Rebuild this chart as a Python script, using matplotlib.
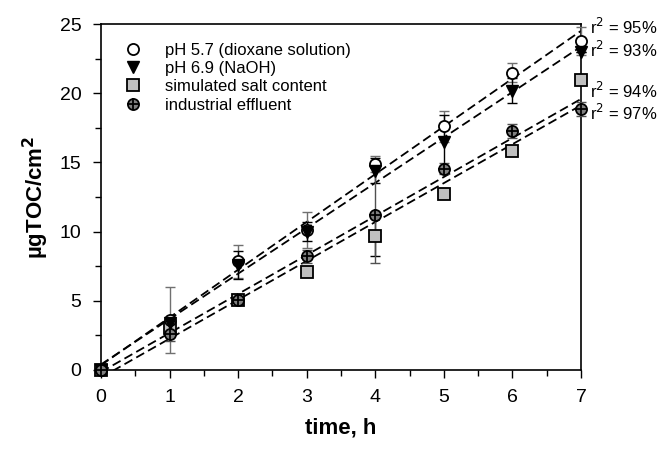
import numpy as np
import matplotlib
matplotlib.use('Agg')
import matplotlib.pyplot as plt
from matplotlib.ticker import MultipleLocator
from matplotlib.legend_handler import HandlerTuple

plt.rcParams['font.family'] = ['Liberation Sans', 'DejaVu Sans']

# data
time_h = [0, 1, 2, 3, 4, 5, 6, 7]
ph57 = [0, 3.6, 7.85, 10.15, 14.9, 17.6, 21.5, 23.8]
ph57_err = [0, 2.4, 1.2, 1.3, 0.6, 1.1, 0.7, 1.0]
ph69 = [0, 3.4, 7.6, 10.0, 14.4, 16.5, 20.2, 22.95]
ph69_err = [0, 0, 1.0, 0.7, 0.9, 1.9, 0.9, 0]
salt = [0, 3.0, 5.05, 7.1, 9.7, 12.7, 15.8, 20.95]
salt_err = [0, 0, 0, 0, 1.5, 0, 0, 0]
effluent = [0, 2.6, 5.05, 8.2, 11.2, 14.55, 17.3, 18.84]
effluent_err = [0, 0.5, 0, 0.5, 3.5, 0.4, 0.5, 0.5]

labels = ['pH 5.7 (dioxane solution)', 'pH 6.9 (NaOH)',
          'simulated salt content', 'industrial effluent']
r2_labels = ['95%', '93%', '94%', '97%']
r2_ypos = [24.8, 23.1, 20.2, 18.6]

fig = plt.figure(figsize=(6.64, 4.55), dpi=100)
ax = fig.add_axes([0.152, 0.187, 0.723, 0.760])

t = np.array(time_h)
series = [ph57, ph69, salt, effluent]
errs = [ph57_err, ph69_err, salt_err, effluent_err]

# regression lines
for y in series:
    k, b = np.polyfit(t, y, 1)
    ax.plot([t[0], t[-1]], [k * t[0] + b, k * t[-1] + b], color='black',
            lw=1.3, dashes=(5, 2.5), zorder=2)

ms = 8
ecols = ['#707070', 'black', 'black', '#505050']
for y, e, c in zip(series, errs, ecols):
    ax.errorbar(t, y, yerr=e, fmt='none', ecolor=c, elinewidth=1.0,
                capsize=3.5, capthick=1.0, zorder=3, clip_on=False)

h1, = ax.plot(t, ph57, 'o', ms=ms, mfc='white', mec='black', mew=1.3, zorder=5, clip_on=False)
h2, = ax.plot(t, ph69, 'v', ms=ms + 1, mfc='black', mec='black', zorder=5, clip_on=False)
h3, = ax.plot(t, salt, 's', ms=ms, mfc='#c0c0c0', mec='black', mew=1.3, zorder=4, clip_on=False)
h4a, = ax.plot(t, effluent, 'o', ms=ms, mfc='#808080', mec='black', mew=1.3, zorder=6, clip_on=False)
h4b, = ax.plot(t, effluent, '+', ms=ms, mec='black', mew=1.3, zorder=7, clip_on=False)

# r^2 labels at right edge
for lab, yy in zip(r2_labels, r2_ypos):
    ax.text(7.13, yy, 'r$^2$ = ' + lab, fontsize=12, ha='left', va='center',
            clip_on=False)

ax.set_xlim(0, 7)
ax.set_ylim(0, 25)
ax.xaxis.set_major_locator(MultipleLocator(1))
ax.xaxis.set_minor_locator(MultipleLocator(0.5))
ax.yaxis.set_major_locator(MultipleLocator(5))
ax.yaxis.set_minor_locator(MultipleLocator(2.5))
ax.tick_params(which='both', direction='out', top=False, right=False,
               labelsize=14, width=1)
ax.tick_params(which='major', length=6, pad=8)
ax.tick_params(which='minor', length=4)
for s in ax.spines.values():
    s.set_linewidth(1.2)

ax.set_xlabel('time, h', fontsize=16, fontweight='bold', labelpad=8)
ax.set_ylabel('µgTOC/cm$^\\mathbf{2}$', fontsize=16, fontweight='bold', labelpad=6)

leg = ax.legend([h1, h2, h3, (h4a, h4b)], labels, loc='upper left',
                bbox_to_anchor=(0.015, 0.99), frameon=False, fontsize=12,
                handlelength=1.2, handletextpad=1.3, labelspacing=0.2,
                handler_map={tuple: HandlerTuple(ndivide=1)})

fig.savefig('out.png', dpi=100)
